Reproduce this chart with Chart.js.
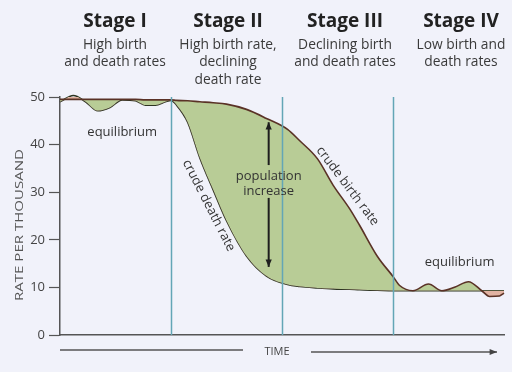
<!DOCTYPE html>
<html>
<head>
<meta charset="utf-8">
<script src="https://cdn.jsdelivr.net/npm/chart.js@4"></script>
<style>
  body { margin: 0; background: #f1f2fa; }
  #grafica { display: block; }
</style>
</head>
<body>
<canvas id="grafica" width="512" height="372"></canvas>
<script>
// tiempo en "etapas" (0 a 4), tasas por mil
const tiempo = [0, 0.12, 0.23, 0.34, 0.45, 0.56, 0.68, 0.77, 0.86, 0.95, 1.0, 1.05, 1.15, 1.26, 1.38, 1.5, 1.68, 1.86, 2.05, 2.16, 2.32, 2.46, 2.61, 2.7, 2.86, 3.0, 3.06, 3.18, 3.32, 3.44, 3.56, 3.68, 3.8, 3.87, 3.96, 4.0];
const natalidad = [49.5, 49.5, 49.5, 49.5, 49.5, 49.5, 49.5, 49.4, 49.4, 49.4, 49.4, 49.3, 49.2, 49.0, 48.8, 48.5, 47.4, 45.5, 43.2, 40.8, 37, 31.5, 26.5, 23, 16.5, 12.3, 10.4, 9.3, 10.7, 9.3, 10.1, 11.2, 9.3, 8.1, 8.2, 8.8];
const mortalidad = [49, 50.3, 49, 47.1, 47.8, 49.4, 49.2, 48.3, 48.3, 49, 49.3, 48.3, 44.7, 37.2, 30.5, 24, 16.6, 12.4, 10.6, 10.2, 9.9, 9.7, 9.6, 9.5, 9.4, 9.3, 9.3, 9.3, 9.3, 9.3, 9.3, 9.3, 9.3, 9.3, 9.3, 9.3];
const marcasY = [0, 10, 20, 30, 40, 50];
const limitesEtapas = [1, 2, 3];
const etapas = ["Stage I", "Stage II", "Stage III", "Stage IV"];
const descripciones = [
  ["High birth", "and death rates"],
  ["High birth rate,", "declining", "death rate"],
  ["Declining birth", "and death rates"],
  ["Low birth and", "death rates"]
];

const fuente = "'Open Sans', 'Noto Sans', sans-serif";
const centrosTitulos = [115, 228, 345, 461];

function flecha(ctx, x1, y1, x2, y2) {
  const ang = Math.atan2(y2 - y1, x2 - x1);
  ctx.beginPath();
  ctx.moveTo(x1, y1);
  ctx.lineTo(x2, y2);
  ctx.stroke();
  ctx.beginPath();
  ctx.moveTo(x2, y2);
  ctx.lineTo(x2 - 8 * Math.cos(ang - 0.4), y2 - 8 * Math.sin(ang - 0.4));
  ctx.lineTo(x2 - 8 * Math.cos(ang + 0.4), y2 - 8 * Math.sin(ang + 0.4));
  ctx.closePath();
  ctx.fill();
}

function textoGirado(ctx, texto, x, y, grados, ancho) {
  ctx.save();
  ctx.translate(x, y);
  ctx.rotate(grados * Math.PI / 180);
  if (ancho) {
    ctx.scale(ancho / ctx.measureText(texto).width, 1);
  }
  ctx.fillText(texto, 0, 0);
  ctx.restore();
}

const dibujos = {
  id: "dibujos",
  beforeDraw(chart) {
    const ctx = chart.ctx;
    ctx.save();
    ctx.fillStyle = "#f1f2fa";
    ctx.fillRect(0, 0, chart.width, chart.height);
    ctx.restore();
  },
  afterDatasetsDraw(chart) {
    const { ctx, chartArea, scales: { x, y } } = chart;
    ctx.save();

    // lineas de etapas
    ctx.strokeStyle = "#63a6b6";
    ctx.lineWidth = 1.5;
    limitesEtapas.forEach(t => {
      const px = Math.round(x.getPixelForValue(t)) + 0.5;
      ctx.beginPath();
      ctx.moveTo(px, chartArea.top);
      ctx.lineTo(px, chartArea.bottom);
      ctx.stroke();
    });

    // titulos de etapas
    ctx.textAlign = "center";
    ctx.textBaseline = "middle";
    etapas.forEach((nombre, i) => {
      ctx.fillStyle = "#222";
      ctx.font = "bold 19px " + fuente;
      ctx.fillText(nombre, centrosTitulos[i], 22);
      ctx.fillStyle = "#3a3a3a";
      ctx.font = "13.8px " + fuente;
      descripciones[i].forEach((linea, j) => {
        ctx.fillText(linea, centrosTitulos[i], 45 + j * 17.5);
      });
    });

    // anotaciones
    ctx.fillStyle = "#333";
    ctx.font = "13px " + fuente;
    ctx.fillText("equilibrium", x.getPixelForValue(0.56), y.getPixelForValue(42.6));
    ctx.fillText("equilibrium", x.getPixelForValue(3.6), y.getPixelForValue(15.3));
    const xp = x.getPixelForValue(1.88);
    ctx.fillText("population", xp, y.getPixelForValue(33.4));
    ctx.fillText("increase", xp, y.getPixelForValue(30.2));
    textoGirado(ctx, "crude death rate", x.getPixelForValue(1.34), y.getPixelForValue(27.2), 63);
    textoGirado(ctx, "crude birth rate", x.getPixelForValue(2.59), y.getPixelForValue(31.3), 53);

    // flecha doble
    ctx.strokeStyle = "#1e1e1e";
    ctx.fillStyle = "#1e1e1e";
    ctx.lineWidth = 2;
    flecha(ctx, xp, y.getPixelForValue(35.7), xp, y.getPixelForValue(44.7));
    flecha(ctx, xp, y.getPixelForValue(28.8), xp, y.getPixelForValue(14.3));

    // titulo eje Y
    ctx.fillStyle = "#555";
    ctx.font = "11.5px " + fuente;
    textoGirado(ctx, "RATE PER THOUSAND", 20, 225, -90, 152);

    // eje de tiempo
    ctx.fillStyle = "#444";
    ctx.font = "11px " + fuente;
    ctx.fillText("TIME", 277, 352);
    ctx.strokeStyle = "#555";
    ctx.lineWidth = 1.5;
    ctx.beginPath();
    ctx.moveTo(60, 350);
    ctx.lineTo(243, 350);
    ctx.stroke();
    flecha(ctx, 311, 352, 497, 352);

    ctx.restore();
  }
};

const grafica = new Chart(document.getElementById("grafica"), {
  type: "line",
  data: {
    datasets: [
      {
        label: "crude birth rate",
        data: tiempo.map((t, i) => ({ x: t, y: natalidad[i] })),
        borderColor: "#5a3226",
        borderWidth: 1.6,
        pointRadius: 0,
        cubicInterpolationMode: "monotone",
        clip: false,
        fill: { target: 1, above: "#b8cc96", below: "#e2b3a2" }
      },
      {
        label: "crude death rate",
        data: tiempo.map((t, i) => ({ x: t, y: mortalidad[i] })),
        borderColor: "#2c3421",
        borderWidth: 1.6,
        pointRadius: 0,
        cubicInterpolationMode: "monotone",
        clip: false,
        fill: false
      }
    ]
  },
  options: {
    responsive: false,
    animation: false,
    layout: { padding: { top: 97, right: 8, bottom: 37, left: 0 } },
    plugins: {
      legend: { display: false },
      tooltip: { enabled: false }
    },
    scales: {
      x: {
        type: "linear",
        min: 0,
        max: 4,
        ticks: { display: false },
        grid: { display: false },
        border: { display: true, color: "#555", width: 1.5 },
        afterFit: s => { s.height = 0; }
      },
      y: {
        min: 0,
        max: 50,
        afterBuildTicks: s => { s.ticks = marcasY.map(v => ({ value: v })); },
        afterFit: s => { s.width = 60; },
        ticks: { color: "#444", font: { size: 13, family: fuente }, padding: 4 },
        grid: { drawOnChartArea: false, drawTicks: true, tickLength: 11, color: "#555", tickWidth: 1.2 },
        border: { display: true, color: "#555", width: 1.5 }
      }
    }
  },
  plugins: [dibujos]
});
</script>
</body>
</html>
